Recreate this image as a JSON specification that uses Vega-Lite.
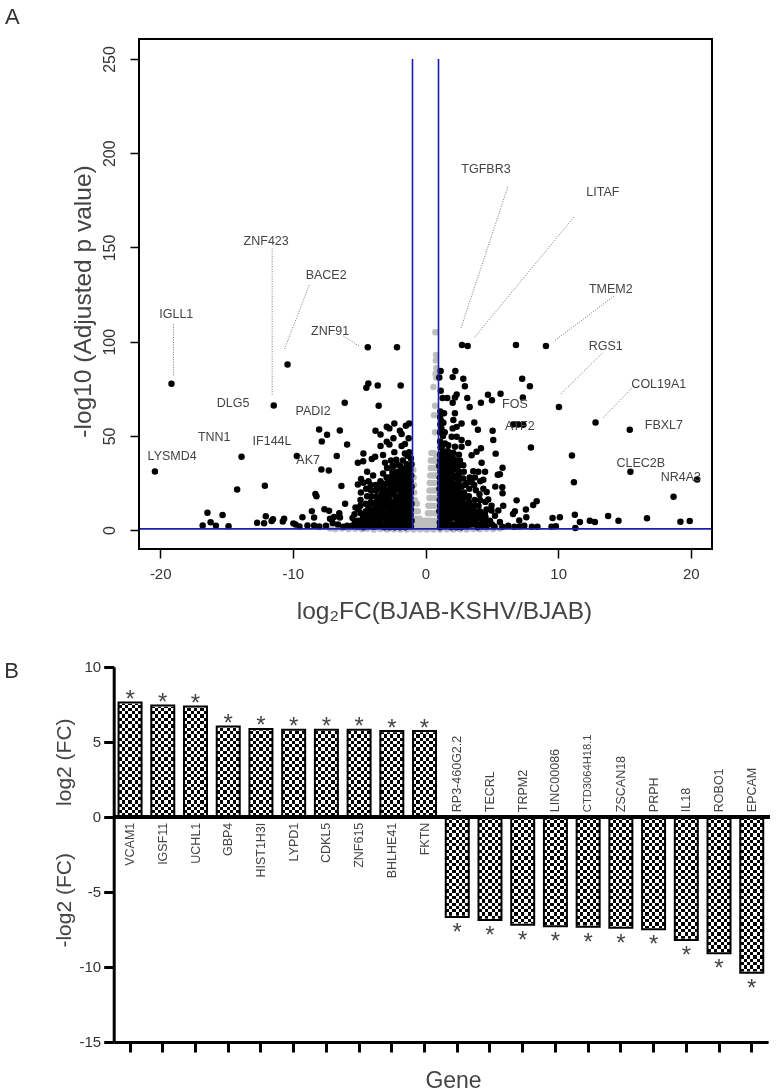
{
"$schema":"https://vega.github.io/schema/vega-lite/v6.json",
"width":777,"height":1092,"padding":0,"autosize":{"type":"none"},"background":"white",
"config":{"font":"Liberation Sans","view":{"stroke":null},"axis":{"grid":false}},
"datasets":{
"grey":[
{"x":0.75,"y":105},{"x":0.8,"y":93},{"x":0.78,"y":90},{"x":0.82,"y":86},{"x":0.76,"y":83},{"x":0.8,"y":81},{"x":0.6,"y":76},{"x":0.72,"y":66},{"x":0.64,"y":61},{"x":0.72,"y":52},
{"x":0.45,"y":41},{"x":0.6,"y":41},{"x":0.8,"y":40},{"x":0.9,"y":40},{"x":0.4,"y":37},{"x":0.55,"y":37},{"x":0.7,"y":37},{"x":0.9,"y":36},{"x":0.4,"y":33},{"x":0.6,"y":33},{"x":0.78,"y":33},{"x":0.92,"y":33},{"x":0.36,"y":29},{"x":0.55,"y":29},{"x":0.75,"y":29},{"x":0.9,"y":29},{"x":0.33,"y":25},{"x":0.5,"y":25},{"x":0.7,"y":25},{"x":0.9,"y":25},{"x":0.3,"y":21},{"x":0.5,"y":21},{"x":0.7,"y":21},{"x":0.9,"y":21},{"x":0.3,"y":17},{"x":0.48,"y":17},{"x":0.7,"y":17},{"x":0.9,"y":17},{"x":0.22,"y":13},{"x":0.45,"y":13},{"x":0.7,"y":13},{"x":0.9,"y":13},{"x":0.18,"y":9},{"x":0.4,"y":9},{"x":0.7,"y":9},{"x":0.9,"y":9},{"x":0.1,"y":5},{"x":0.35,"y":5},{"x":0.65,"y":5},{"x":0.9,"y":5},{"x":0.05,"y":2},{"x":0.3,"y":2},{"x":0.6,"y":2},{"x":0.9,"y":2},
{"x":-0.92,"y":32},{"x":-0.9,"y":28},{"x":-0.88,"y":24},{"x":-0.85,"y":20},{"x":-0.82,"y":16},{"x":-0.65,"y":14},{"x":-0.88,"y":14},{"x":-0.58,"y":10},{"x":-0.8,"y":10},{"x":-0.45,"y":6},{"x":-0.7,"y":6},{"x":-0.9,"y":6},{"x":-0.25,"y":3},{"x":-0.5,"y":3},{"x":-0.75,"y":3},{"x":-0.92,"y":3},{"x":-0.08,"y":5},{"x":0,"y":1},{"x":-0.2,"y":1},{"x":-0.5,"y":1},
{"x":-7.2,"y":0.9},{"x":-6.8,"y":0.6},{"x":-6.3,"y":0.9},{"x":-5.8,"y":0.6},{"x":-5.3,"y":0.8},{"x":-4.8,"y":0.5},{"x":-4.4,"y":0.7},{"x":-3.9,"y":0.4},{"x":-3.4,"y":0.6},{"x":-2.9,"y":0.4},{"x":-2.4,"y":0.5},{"x":-1.9,"y":0.3},{"x":-1.4,"y":0.4},{"x":-0.9,"y":0.3},{"x":-0.4,"y":0.5},{"x":0.1,"y":0.3},{"x":0.6,"y":0.4},{"x":1.1,"y":0.3},{"x":1.6,"y":0.5},{"x":2.1,"y":0.3},{"x":2.6,"y":0.5},{"x":3.1,"y":0.4},{"x":3.6,"y":0.6},{"x":4.1,"y":0.5},{"x":4.6,"y":0.7},{"x":5.1,"y":0.6},{"x":5.6,"y":0.9}
],
"black":[
{"x":-19.15,"y":77.7},{"x":-20.4,"y":31.1},{"x":-10.4,"y":87.9},{"x":-11.44,"y":66.2},{"x":-4.35,"y":97},{"x":-2.15,"y":97},{"x":-4.31,"y":77.8},{"x":-4.46,"y":75.5},{"x":-3.6,"y":76.8},{"x":-1.87,"y":76.8},{"x":-6.09,"y":67.6},{"x":-3.53,"y":66},{"x":-8.02,"y":53.4},{"x":-7.42,"y":50.6},{"x":-7.82,"y":47.1},{"x":-6.46,"y":52.9},{"x":-5.91,"y":45.5},{"x":-6.69,"y":39.4},{"x":-9.7,"y":39.4},{"x":-13.87,"y":38.9},{"x":-7.85,"y":32.2},{"x":-7.29,"y":31.7},{"x":-14.2,"y":21.6},{"x":-12.11,"y":23.5},{"x":-6.34,"y":23.4},{"x":-8.3,"y":19.2},{"x":-8.22,"y":18},{"x":-6.06,"y":14},{"x":-8.57,"y":10.1},{"x":-16.44,"y":9.2},{"x":-15.3,"y":8.1},{"x":-16.2,"y":4.2},{"x":-16.8,"y":2.5},{"x":-15.8,"y":2.3},{"x":-14.85,"y":2.1},{"x":-12.7,"y":3.9},{"x":-12.17,"y":3.7},{"x":-12.04,"y":7.4},{"x":-11.6,"y":4.8},{"x":-11.5,"y":5.8},{"x":-10.66,"y":6},{"x":-10.76,"y":4.6},{"x":-9.96,"y":3.6},{"x":-9.8,"y":3},{"x":-9.28,"y":6.9},{"x":-9.5,"y":2},{"x":-8.9,"y":2.5},{"x":-8.4,"y":6.7},{"x":-8.4,"y":2.5},{"x":-7.62,"y":11.1},{"x":-7.27,"y":10.3},{"x":-7.2,"y":6},{"x":-6.9,"y":7},{"x":-6.5,"y":9},{"x":-6.45,"y":6.7},{"x":-7,"y":3.8},{"x":-7.5,"y":2.3},{"x":-6.6,"y":3},{"x":-5.9,"y":2.4},{"x":-8,"y":2},{"x":-6.2,"y":1.8},
{"x":-2.35,"y":56.6},{"x":-2.92,"y":54.9},{"x":-2.72,"y":54},{"x":-3.77,"y":52.7},{"x":-3.39,"y":50.8},{"x":-1.93,"y":52.7},{"x":-1.23,"y":56.6},{"x":-1.48,"y":55.4},{"x":-1.8,"y":51},{"x":-1.27,"y":48.8},{"x":-2.42,"y":48.8},{"x":-2.92,"y":46.9},{"x":-2.72,"y":45.5},{"x":-3.39,"y":44.6},{"x":-1.8,"y":44.6},{"x":-1.55,"y":45.7},{"x":-4.68,"y":40.7},{"x":-3.2,"y":39.9},{"x":-2.35,"y":41.4},{"x":-1.55,"y":40.7},{"x":-1.23,"y":41.3},{"x":-3.8,"y":39},{"x":-4.05,"y":37.7},{"x":-5.1,"y":35.8},{"x":-4.7,"y":36.5},{"x":-3.05,"y":35.8},{"x":-2.2,"y":37.3},{"x":-4.4,"y":31},{"x":-2.9,"y":33},{"x":-2.4,"y":34},{"x":-1.9,"y":34},{"x":-1.4,"y":35},{"x":-4.86,"y":27.2},{"x":-5.1,"y":24.2},{"x":-4.68,"y":25.1},{"x":-3.4,"y":26},{"x":-3.55,"y":22},{"x":-4.1,"y":21},{"x":-4.4,"y":18},{"x":-4.9,"y":16},{"x":-5.05,"y":11},{"x":-3.6,"y":17},{"x":-3.9,"y":14},{"x":-4.3,"y":12},
{"x":-1.1,"y":38},{"x":-1.05,"y":35},{"x":-1.15,"y":32},{"x":-1.08,"y":29},{"x":-1.12,"y":26},{"x":-1.05,"y":23},{"x":-1.1,"y":20},{"x":-1.14,"y":17},{"x":-1.06,"y":14},{"x":-1.1,"y":11},{"x":-1.12,"y":8},{"x":-1.05,"y":5},{"x":-1.1,"y":2},
{"x":-1.5,"y":33},{"x":-1.45,"y":30},{"x":-1.55,"y":27},{"x":-1.5,"y":24},{"x":-1.48,"y":21},{"x":-1.52,"y":18},{"x":-1.45,"y":15},{"x":-1.5,"y":12},{"x":-1.55,"y":9},{"x":-1.46,"y":6},{"x":-1.5,"y":3},{"x":-1.52,"y":1.5},
{"x":-1.9,"y":31},{"x":-1.85,"y":28},{"x":-1.95,"y":25},{"x":-1.9,"y":22},{"x":-1.88,"y":19},{"x":-1.92,"y":16},{"x":-1.86,"y":13},{"x":-1.94,"y":10},{"x":-1.9,"y":7},{"x":-1.87,"y":4},{"x":-1.92,"y":1.5},
{"x":-2.3,"y":30},{"x":-2.28,"y":27},{"x":-2.35,"y":24},{"x":-2.3,"y":21},{"x":-2.26,"y":18},{"x":-2.33,"y":15},{"x":-2.3,"y":12},{"x":-2.35,"y":9},{"x":-2.28,"y":6},{"x":-2.3,"y":3},{"x":-2.32,"y":1.5},
{"x":-2.7,"y":28},{"x":-2.72,"y":25},{"x":-2.68,"y":22},{"x":-2.75,"y":19},{"x":-2.7,"y":16},{"x":-2.66,"y":13},{"x":-2.72,"y":10},{"x":-2.7,"y":7},{"x":-2.74,"y":4},{"x":-2.7,"y":1.5},
{"x":-3.1,"y":24},{"x":-3.12,"y":21},{"x":-3.08,"y":18},{"x":-3.1,"y":15},{"x":-3.14,"y":12},{"x":-3.1,"y":9},{"x":-3.08,"y":6},{"x":-3.12,"y":3},{"x":-3.1,"y":1.5},
{"x":-3.5,"y":14},{"x":-3.52,"y":11},{"x":-3.48,"y":8},{"x":-3.5,"y":5},{"x":-3.53,"y":2.5},
{"x":-3.9,"y":10},{"x":-3.92,"y":7},{"x":-3.88,"y":4},{"x":-3.9,"y":1.8},
{"x":-4.3,"y":8},{"x":-4.28,"y":5},{"x":-4.32,"y":2.2},{"x":-4.7,"y":7},{"x":-4.7,"y":3.5},{"x":-4.68,"y":1.5},{"x":-5.1,"y":5},{"x":-5.1,"y":2},{"x":-5.5,"y":6.5},{"x":-5.5,"y":2.5},{"x":-5.35,"y":8.5},
{"x":2.75,"y":98.2},{"x":3.18,"y":97.7},{"x":6.82,"y":98.2},{"x":9.08,"y":97.7},{"x":1.14,"y":84.4},{"x":1.04,"y":81},{"x":2.25,"y":84.4},{"x":2.05,"y":81.2},{"x":2.85,"y":80.3},{"x":2.97,"y":76.3},{"x":7.29,"y":80.3},{"x":7.87,"y":76.3},{"x":10.06,"y":65.4},{"x":12.82,"y":57.1},{"x":15.4,"y":53.3},{"x":20.48,"y":26.9},{"x":15.45,"y":31},{"x":18.7,"y":17.7},{"x":11.04,"y":39.6},{"x":11.19,"y":25.4},{"x":7.95,"y":43.9},{"x":7.34,"y":70.4},{"x":5.66,"y":72.4},{"x":4.71,"y":71.9},{"x":5.01,"y":68.9},{"x":4.18,"y":67.6},{"x":3.15,"y":70.1},{"x":3.33,"y":65.4},{"x":3.68,"y":57.1},{"x":3.95,"y":53.3},{"x":5.06,"y":52.7},{"x":5.11,"y":47.8},{"x":6.99,"y":56.1},{"x":7.37,"y":55.9},{"x":6.6,"y":56},{"x":5.29,"y":40.6},{"x":4.18,"y":43.5},{"x":4.23,"y":35.8},{"x":5.81,"y":33.1},{"x":5.61,"y":29.7},{"x":5.45,"y":29.4},{"x":4.49,"y":31},{"x":4.36,"y":26.8},{"x":5.26,"y":23.1},{"x":5.79,"y":22.8},{"x":5.81,"y":19.6},{"x":4.73,"y":16.3},{"x":6.87,"y":15.8},{"x":8.38,"y":15.4},{"x":8.12,"y":13.4},{"x":7.57,"y":11},{"x":6.74,"y":10},{"x":6.6,"y":8.6},{"x":7.6,"y":6.8},{"x":7.07,"y":5.1},{"x":9.58,"y":6.4},{"x":10.13,"y":6.8},{"x":11.26,"y":8.2},{"x":11.64,"y":4.3},{"x":12.39,"y":5},{"x":12.77,"y":4.3},{"x":13.77,"y":7.5},{"x":14.55,"y":5},{"x":16.7,"y":6.3},{"x":19.22,"y":4.4},{"x":19.92,"y":4.8},{"x":9.83,"y":2.1},{"x":9.5,"y":1.8},{"x":11.3,"y":1.1},{"x":8.44,"y":1.8},{"x":8.02,"y":1.8},{"x":7.1,"y":2},{"x":7.45,"y":2.3},{"x":6.7,"y":1.8},
{"x":2.35,"y":72},{"x":2.22,"y":70.4},{"x":2.05,"y":67.6},{"x":1.29,"y":70.1},{"x":1.64,"y":70.1},{"x":2.22,"y":62},{"x":2.1,"y":58.4},{"x":2.72,"y":56.6},{"x":2.35,"y":54.8},{"x":1.97,"y":49.5},{"x":2.35,"y":49.5},{"x":2.72,"y":47.8},{"x":3.22,"y":46.3},{"x":1.47,"y":46},{"x":1.72,"y":45},{"x":2.22,"y":44.2},{"x":2.72,"y":44.2},{"x":3.48,"y":39.8},{"x":3.85,"y":41.6},{"x":2.85,"y":34.5},{"x":3.6,"y":31.3},{"x":3.98,"y":31},{"x":3.48,"y":25.6},{"x":3.8,"y":21.2},{"x":4.36,"y":22},{"x":4.61,"y":20.3},{"x":2.85,"y":27.4},{"x":3.1,"y":17.7},{"x":4.98,"y":10.4},{"x":5.49,"y":10.4},{"x":5.86,"y":13},{"x":5.24,"y":7.7},{"x":6.24,"y":2.4},{"x":4.86,"y":5},{"x":4.36,"y":6.8},{"x":5.61,"y":4.3},{"x":3.85,"y":8.6},{"x":3.48,"y":12.1},{"x":5.2,"y":2},{"x":5.8,"y":1.8},{"x":4.6,"y":2},
{"x":1.12,"y":63},{"x":1.1,"y":60},{"x":1.18,"y":58},{"x":1.12,"y":56},{"x":1.2,"y":54},{"x":1.1,"y":52},{"x":1.4,"y":62},{"x":1.35,"y":57},{"x":1.1,"y":47},{"x":1.15,"y":44},{"x":1.1,"y":40},{"x":1.5,"y":41},
{"x":1.1,"y":37},{"x":1.05,"y":34},{"x":1.12,"y":31},{"x":1.08,"y":28},{"x":1.1,"y":25},{"x":1.06,"y":22},{"x":1.12,"y":19},{"x":1.08,"y":16},{"x":1.1,"y":13},{"x":1.05,"y":10},{"x":1.12,"y":7},{"x":1.08,"y":4},{"x":1.1,"y":1.5},
{"x":1.5,"y":38},{"x":1.45,"y":35},{"x":1.55,"y":32},{"x":1.5,"y":29},{"x":1.46,"y":26},{"x":1.52,"y":23},{"x":1.48,"y":20},{"x":1.55,"y":17},{"x":1.5,"y":14},{"x":1.46,"y":11},{"x":1.52,"y":8},{"x":1.48,"y":5},{"x":1.5,"y":2},
{"x":1.9,"y":41},{"x":1.85,"y":37},{"x":1.95,"y":33},{"x":1.88,"y":30},{"x":1.92,"y":27},{"x":1.9,"y":24},{"x":1.86,"y":21},{"x":1.93,"y":18},{"x":1.9,"y":15},{"x":1.87,"y":12},{"x":1.92,"y":9},{"x":1.9,"y":6},{"x":1.88,"y":3},{"x":1.93,"y":1.5},
{"x":2.3,"y":37},{"x":2.35,"y":33},{"x":2.28,"y":28},{"x":2.32,"y":24},{"x":2.3,"y":21},{"x":2.36,"y":18},{"x":2.28,"y":15},{"x":2.32,"y":12},{"x":2.3,"y":9},{"x":2.35,"y":6},{"x":2.28,"y":3},{"x":2.33,"y":1.5},
{"x":2.7,"y":23},{"x":2.72,"y":19},{"x":2.68,"y":16},{"x":2.74,"y":13},{"x":2.7,"y":10},{"x":2.66,"y":7},{"x":2.72,"y":4},{"x":2.7,"y":1.5},
{"x":3.1,"y":14},{"x":3.12,"y":11},{"x":3.08,"y":8},{"x":3.1,"y":5},{"x":3.12,"y":2},{"x":3.5,"y":9},{"x":3.52,"y":6},{"x":3.5,"y":3},{"x":3.9,"y":6},{"x":3.88,"y":3},{"x":3.92,"y":1.5},{"x":4.3,"y":4},{"x":4.28,"y":2},{"x":3.3,"y":15},{"x":4,"y":13},{"x":2.6,"y":37},{"x":3.1,"y":25},{"x":3.3,"y":22},
{"x":-1.3,"y":19},{"x":-1.3,"y":25},{"x":-1.3,"y":31},{"x":-1.3,"y":13},{"x":-1.3,"y":7},{"x":-1.7,"y":37},{"x":-1.7,"y":23},{"x":-1.7,"y":29},{"x":-1.7,"y":11},{"x":-1.7,"y":5},{"x":-2.1,"y":28},{"x":-2.1,"y":22},{"x":-2.1,"y":14},{"x":-2.1,"y":8},{"x":-2.5,"y":31},{"x":-2.5,"y":26},{"x":-2.5,"y":19},{"x":-2.5,"y":11},{"x":-2.9,"y":25},{"x":-2.9,"y":18},{"x":-2.9,"y":12},{"x":-2.9,"y":5},{"x":-3.3,"y":19},{"x":-3.3,"y":13},{"x":-3.3,"y":7},{"x":-3.7,"y":12},{"x":-3.7,"y":6},{"x":-4.1,"y":11},{"x":-4.5,"y":10},{"x":-4.1,"y":6},{"x":-4.5,"y":5},{"x":-3.75,"y":24},{"x":-4.3,"y":26},{"x":-3.95,"y":29},{"x":-3.2,"y":30},{"x":-2.6,"y":37},
{"x":1.3,"y":42},{"x":1.3,"y":36},{"x":1.3,"y":30},{"x":1.3,"y":24},{"x":1.3,"y":18},{"x":1.3,"y":12},{"x":1.3,"y":6},{"x":1.7,"y":39},{"x":1.7,"y":33},{"x":1.7,"y":27},{"x":1.7,"y":21},{"x":1.7,"y":15},{"x":1.7,"y":9},{"x":2.1,"y":35},{"x":2.1,"y":29},{"x":2.1,"y":22},{"x":2.1,"y":13},{"x":2.5,"y":31},{"x":2.5,"y":26},{"x":2.5,"y":17},{"x":2.5,"y":11},{"x":2.9,"y":20},{"x":2.9,"y":14},{"x":2.9,"y":7},{"x":3.3,"y":11},{"x":3.3,"y":6},{"x":3.7,"y":10},{"x":3.7,"y":4},{"x":4.1,"y":10},{"x":4.6,"y":11},{"x":4.5,"y":4},{"x":1.15,"y":74},{"x":1.45,"y":52},{"x":2.05,"y":54},
{"x":-1.32,"y":3},{"x":-1.28,"y":10},{"x":-1.33,"y":16},{"x":-1.27,"y":22},{"x":-1.31,"y":28},{"x":-1.29,"y":34},{"x":-1.35,"y":39.5},{"x":-1.72,"y":2},{"x":-1.68,"y":8},{"x":-1.71,"y":14},{"x":-1.69,"y":17},{"x":-1.73,"y":20},{"x":-1.67,"y":26},{"x":-1.7,"y":32},{"x":-2.12,"y":2},{"x":-2.08,"y":5},{"x":-2.11,"y":11},{"x":-2.13,"y":17},{"x":-2.07,"y":25},{"x":-2.1,"y":31},{"x":-2.14,"y":35},{"x":-2.52,"y":3},{"x":-2.48,"y":6},{"x":-2.51,"y":9},{"x":-2.47,"y":14},{"x":-2.53,"y":22},{"x":-2.5,"y":29},{"x":-2.49,"y":34},{"x":-2.92,"y":2},{"x":-2.88,"y":8},{"x":-2.91,"y":15},{"x":-2.87,"y":21},{"x":-2.93,"y":28},{"x":-3.32,"y":3},{"x":-3.28,"y":10},{"x":-3.31,"y":16},{"x":-3.27,"y":22},{"x":-3.33,"y":25},{"x":-3.72,"y":3},{"x":-3.68,"y":9},{"x":-3.71,"y":15},{"x":-3.67,"y":18},{"x":-3.73,"y":21},{"x":-4.12,"y":3},{"x":-4.08,"y":8},{"x":-4.11,"y":15},{"x":-4.07,"y":18},{"x":-4.13,"y":24},{"x":-4.52,"y":3},{"x":-4.48,"y":7},{"x":-4.51,"y":14},{"x":-4.47,"y":22},{"x":-4.92,"y":5},{"x":-4.88,"y":9},{"x":-4.91,"y":13},{"x":-4.87,"y":20},{"x":-5.32,"y":4},{"x":-5.28,"y":12},
{"x":1.32,"y":3},{"x":1.28,"y":9},{"x":1.31,"y":15},{"x":1.27,"y":21},{"x":1.33,"y":27},{"x":1.29,"y":33},{"x":1.31,"y":39},{"x":1.28,"y":45},{"x":1.32,"y":50},{"x":1.72,"y":3},{"x":1.68,"y":6},{"x":1.71,"y":12},{"x":1.67,"y":18},{"x":1.73,"y":24},{"x":1.69,"y":30},{"x":1.71,"y":36},{"x":1.68,"y":42},{"x":2.12,"y":3},{"x":2.08,"y":7},{"x":2.11,"y":10},{"x":2.07,"y":16},{"x":2.13,"y":19},{"x":2.09,"y":25},{"x":2.12,"y":32},{"x":2.08,"y":38},{"x":2.11,"y":41},{"x":2.52,"y":3},{"x":2.48,"y":6},{"x":2.51,"y":8},{"x":2.47,"y":14},{"x":2.53,"y":20},{"x":2.49,"y":23},{"x":2.51,"y":29},{"x":2.48,"y":34},{"x":2.52,"y":40},{"x":2.92,"y":3},{"x":2.88,"y":5},{"x":2.91,"y":10},{"x":2.87,"y":17},{"x":2.93,"y":24},{"x":2.89,"y":31},{"x":3.32,"y":3},{"x":3.28,"y":8},{"x":3.31,"y":13},{"x":3.27,"y":18},{"x":3.33,"y":28},{"x":3.72,"y":7},{"x":3.68,"y":13},{"x":3.71,"y":16},{"x":3.67,"y":24},{"x":3.73,"y":28},{"x":4.12,"y":3},{"x":4.08,"y":7},{"x":4.11,"y":16},{"x":4.07,"y":19},{"x":4.13,"y":26},{"x":4.52,"y":7},{"x":4.48,"y":9},{"x":4.51,"y":15},{"x":5.02,"y":3},{"x":4.98,"y":13}
],
"labels":[
{"g":"TGFBR3","x":4.56,"y":191.5},{"g":"LITAF","x":13.37,"y":179.5},{"g":"TMEM2","x":13.97,"y":127.9},{"g":"RGS1","x":13.59,"y":97.6},{"g":"COL19A1","x":17.59,"y":77.4},{"g":"FBXL7","x":17.97,"y":55.7},{"g":"FOS","x":6.74,"y":66.9},{"g":"ATF2","x":7.11,"y":55.5},{"g":"CLEC2B","x":16.23,"y":35.6},{"g":"NR4A3","x":19.25,"y":28.1},{"g":"ZNF423","x":-12.01,"y":153.5},{"g":"BACE2","x":-7.49,"y":135.2},{"g":"ZNF91","x":-7.19,"y":105.5},{"g":"IGLL1","x":-18.79,"y":114.6},{"g":"DLG5","x":-14.5,"y":67.4},{"g":"PADI2","x":-8.47,"y":63.2},{"g":"TNN1","x":-15.93,"y":49.4},{"g":"IF144L","x":-11.57,"y":47.2},{"g":"AK7","x":-8.85,"y":37.2},{"g":"LYSMD4","x":-19.1,"y":39.3}
],
"leaders":[
{"x":-19,"y":109.2,"x2":-19,"y2":81.9},{"x":-11.56,"y":149.4,"x2":-11.56,"y2":71.7},{"x":-8.77,"y":130,"x2":-10.66,"y2":95.5},{"x":-6.19,"y":103,"x2":-4.93,"y2":97.3},{"x":6.2,"y":182,"x2":2.67,"y2":107.2},{"x":11.19,"y":166.1,"x2":3.65,"y2":101.9},{"x":14.2,"y":124.2,"x2":9.68,"y2":100.2},{"x":13.35,"y":94.1,"x2":10.21,"y2":72.3},{"x":15.53,"y":75.2,"x2":13.35,"y2":59.3}
],
"genes":[
{"gene":"VCAM1","value":7.62},{"gene":"IGSF11","value":7.42},{"gene":"UCHL1","value":7.35},{"gene":"GBP4","value":6.02},{"gene":"HIST1H3I","value":5.85},{"gene":"LYPD1","value":5.8},{"gene":"CDKL5","value":5.8},{"gene":"ZNF615","value":5.8},{"gene":"BHLHE41","value":5.71},{"gene":"FKTN","value":5.71},{"gene":"RP3-460G2.2","value":-6.68},{"gene":"TECRL","value":-6.88},{"gene":"TRPM2","value":-7.2},{"gene":"LINC00086","value":-7.3},{"gene":"CTD3064H18.1","value":-7.33},{"gene":"ZSCAN18","value":-7.4},{"gene":"PRPH","value":-7.5},{"gene":"IL18","value":-8.22},{"gene":"ROBO1","value":-9.1},{"gene":"EPCAM","value":-10.4}
]
},
"layer":[
{"layer":[
{"data":{"name":"grey"},"mark":{"type":"circle","size":42,"opacity":1,"color":"#bdbdbd"},
 "encoding":{
  "x":{"field":"x","type":"quantitative","scale":{"domain":[-21.6,21.6],"range":[139,712],"nice":false,"zero":false},
   "axis":{"orient":"bottom","offset":-543,"values":[-20,-10,0,10,20],"domain":false,"tickColor":"#000","tickWidth":1.5,"tickSize":9,"labelFontSize":15,"labelColor":"#333","labelPadding":8,"labelExpr":"replace(datum.label,'−','-')","title":"log₂FC(BJAB-KSHV/BJAB)","titleFontSize":24.5,"titleFontWeight":"normal","titleColor":"#444","titleX":444,"titleY":50}},
  "y":{"field":"y","type":"quantitative","scale":{"domain":[-10,260.6],"range":[549,39],"nice":false,"zero":false},
   "axis":{"orient":"left","offset":-139,"values":[0,50,100,150,200,250],"domain":false,"tickColor":"#000","tickWidth":1.5,"tickSize":9,"labelFontSize":16,"labelColor":"#333","labelAngle":270,"labelPadding":13,"title":"-log10 (Adjusted p value)","titleFontSize":24.5,"titleFontWeight":"normal","titleColor":"#444","titleX":-44,"titleY":301}}
 }},
{"data":{"name":"black"},"mark":{"type":"circle","size":42,"opacity":1,"color":"#000"},
 "encoding":{"x":{"field":"x","type":"quantitative"},"y":{"field":"y","type":"quantitative"}}},
{"data":{"name":"leaders"},"mark":{"type":"rule","stroke":"#555","strokeWidth":0.8,"strokeDash":[1,1.5]},
 "encoding":{"x":{"field":"x","type":"quantitative"},"x2":{"field":"x2"},"y":{"field":"y","type":"quantitative"},"y2":{"field":"y2"}}},
{"data":{"name":"labels"},"mark":{"type":"text","fontSize":12.5,"color":"#444","align":"center","baseline":"middle"},
 "encoding":{"x":{"field":"x","type":"quantitative"},"y":{"field":"y","type":"quantitative"},"text":{"field":"g"}}},
{"data":{"values":[{}]},"mark":{"type":"rule","stroke":"#1c1cb0","strokeWidth":1.6},"encoding":{"x":{"datum":-0.98},"y":{"datum":0.7},"y2":{"datum":250}}},
{"data":{"values":[{}]},"mark":{"type":"rule","stroke":"#1c1cb0","strokeWidth":1.6},"encoding":{"x":{"datum":0.98},"y":{"datum":0.7},"y2":{"datum":250}}},
{"data":{"values":[{}]},"mark":{"type":"rule","stroke":"#1c1cb0","strokeWidth":1.6},"encoding":{"x":{"datum":-21.6},"x2":{"datum":21.6},"y":{"datum":0.7}}},
{"data":{"values":[{}]},"mark":{"type":"rect","fill":null,"stroke":"#000","strokeWidth":2},"encoding":{"x":{"datum":-21.6},"x2":{"datum":21.6},"y":{"datum":-10},"y2":{"datum":260.6}}},
{"data":{"values":[{"t":"A","x":-31.15,"y":272.3},{"t":"B","x":-31.2,"y":-74.8}]},"mark":{"type":"text","fontSize":22,"color":"#333","align":"center","baseline":"middle"},
 "encoding":{"x":{"field":"x","type":"quantitative"},"y":{"field":"y","type":"quantitative"},"text":{"field":"t"}}},
{"data":{"values":[{"t":"log2 (FC)","x":-27.16,"y":-123.1},{"t":"-log2 (FC)","x":-27.16,"y":-196.4}]},"mark":{"type":"text","fontSize":21,"color":"#444","angle":270,"align":"center","baseline":"middle"},
 "encoding":{"x":{"field":"x","type":"quantitative"},"y":{"field":"y","type":"quantitative"},"text":{"field":"t"}}}
]},
{"data":{"name":"genes"},
 "encoding":{"x":{"field":"gene","type":"nominal","sort":null,"scale":{"type":"band","range":[113.7,768.1],"paddingInner":0.297,"paddingOuter":0.1485},
   "axis":{"orient":"bottom","offset":-50,"labels":false,"domainColor":"#000","domainWidth":3,"tickColor":"#000","tickWidth":3,"tickSize":10,"title":"Gene","titleFontSize":23,"titleFontWeight":"normal","titleColor":"#444","titleX":453,"titleY":27}}},
 "layer":[
{"transform":[{"filter":"datum.value>0"}],"mark":{"type":"bar","fill":{"gradient":"linear","x1":0,"y1":0,"x2":0,"y2":1,"stops":[{"offset":0,"color":"#000"},{"offset":0.025,"color":"#000"},{"offset":0.025,"color":"#fff"},{"offset":0.05,"color":"#fff"},{"offset":0.05,"color":"#000"},{"offset":0.075,"color":"#000"},{"offset":0.075,"color":"#fff"},{"offset":0.1,"color":"#fff"},{"offset":0.1,"color":"#000"},{"offset":0.125,"color":"#000"},{"offset":0.125,"color":"#fff"},{"offset":0.15,"color":"#fff"},{"offset":0.15,"color":"#000"},{"offset":0.175,"color":"#000"},{"offset":0.175,"color":"#fff"},{"offset":0.2,"color":"#fff"},{"offset":0.2,"color":"#000"},{"offset":0.225,"color":"#000"},{"offset":0.225,"color":"#fff"},{"offset":0.25,"color":"#fff"},{"offset":0.25,"color":"#000"},{"offset":0.275,"color":"#000"},{"offset":0.275,"color":"#fff"},{"offset":0.3,"color":"#fff"},{"offset":0.3,"color":"#000"},{"offset":0.325,"color":"#000"},{"offset":0.325,"color":"#fff"},{"offset":0.35,"color":"#fff"},{"offset":0.35,"color":"#000"},{"offset":0.375,"color":"#000"},{"offset":0.375,"color":"#fff"},{"offset":0.4,"color":"#fff"},{"offset":0.4,"color":"#000"},{"offset":0.425,"color":"#000"},{"offset":0.425,"color":"#fff"},{"offset":0.45,"color":"#fff"},{"offset":0.45,"color":"#000"},{"offset":0.475,"color":"#000"},{"offset":0.475,"color":"#fff"},{"offset":0.5,"color":"#fff"},{"offset":0.5,"color":"#000"},{"offset":0.525,"color":"#000"},{"offset":0.525,"color":"#fff"},{"offset":0.55,"color":"#fff"},{"offset":0.55,"color":"#000"},{"offset":0.575,"color":"#000"},{"offset":0.575,"color":"#fff"},{"offset":0.6,"color":"#fff"},{"offset":0.6,"color":"#000"},{"offset":0.625,"color":"#000"},{"offset":0.625,"color":"#fff"},{"offset":0.65,"color":"#fff"},{"offset":0.65,"color":"#000"},{"offset":0.675,"color":"#000"},{"offset":0.675,"color":"#fff"},{"offset":0.7,"color":"#fff"},{"offset":0.7,"color":"#000"},{"offset":0.725,"color":"#000"},{"offset":0.725,"color":"#fff"},{"offset":0.75,"color":"#fff"},{"offset":0.75,"color":"#000"},{"offset":0.775,"color":"#000"},{"offset":0.775,"color":"#fff"},{"offset":0.8,"color":"#fff"},{"offset":0.8,"color":"#000"},{"offset":0.825,"color":"#000"},{"offset":0.825,"color":"#fff"},{"offset":0.85,"color":"#fff"},{"offset":0.85,"color":"#000"},{"offset":0.875,"color":"#000"},{"offset":0.875,"color":"#fff"},{"offset":0.9,"color":"#fff"},{"offset":0.9,"color":"#000"},{"offset":0.925,"color":"#000"},{"offset":0.925,"color":"#fff"},{"offset":0.95,"color":"#fff"},{"offset":0.95,"color":"#000"},{"offset":0.975,"color":"#000"},{"offset":0.975,"color":"#fff"},{"offset":1,"color":"#fff"}]}},
 "encoding":{"y":{"datum":0,"type":"quantitative","scale":{"domain":[-15,10],"range":[1041.7,666.7],"nice":false,"zero":false},
   "axis":{"orient":"left","offset":-113.7,"values":[-15,-10,-5,0,5,10],"labelExpr":"replace(datum.label,'−','-')","domainColor":"#000","domainWidth":3,"tickColor":"#000","tickWidth":3,"tickSize":10,"labelFontSize":15,"labelColor":"#333","labelPadding":3,"title":null}},"y2":{"datum":8.8}}},
{"transform":[{"filter":"datum.value<0"}],"mark":{"type":"bar","fill":{"gradient":"linear","x1":0,"y1":0,"x2":0,"y2":1,"stops":[{"offset":0.02,"color":"#000"},{"offset":0.02,"color":"#fff"},{"offset":0.04,"color":"#fff"},{"offset":0.04,"color":"#000"},{"offset":0.06,"color":"#000"},{"offset":0.06,"color":"#fff"},{"offset":0.08,"color":"#fff"},{"offset":0.08,"color":"#000"},{"offset":0.1,"color":"#000"},{"offset":0.1,"color":"#fff"},{"offset":0.12,"color":"#fff"},{"offset":0.12,"color":"#000"},{"offset":0.14,"color":"#000"},{"offset":0.14,"color":"#fff"},{"offset":0.16,"color":"#fff"},{"offset":0.16,"color":"#000"},{"offset":0.18,"color":"#000"},{"offset":0.18,"color":"#fff"},{"offset":0.2,"color":"#fff"},{"offset":0.2,"color":"#000"},{"offset":0.22,"color":"#000"},{"offset":0.22,"color":"#fff"},{"offset":0.24,"color":"#fff"},{"offset":0.24,"color":"#000"},{"offset":0.26,"color":"#000"},{"offset":0.26,"color":"#fff"},{"offset":0.28,"color":"#fff"},{"offset":0.28,"color":"#000"},{"offset":0.3,"color":"#000"},{"offset":0.3,"color":"#fff"},{"offset":0.32,"color":"#fff"},{"offset":0.32,"color":"#000"},{"offset":0.34,"color":"#000"},{"offset":0.34,"color":"#fff"},{"offset":0.36,"color":"#fff"},{"offset":0.36,"color":"#000"},{"offset":0.38,"color":"#000"},{"offset":0.38,"color":"#fff"},{"offset":0.4,"color":"#fff"},{"offset":0.4,"color":"#000"},{"offset":0.42,"color":"#000"},{"offset":0.42,"color":"#fff"},{"offset":0.44,"color":"#fff"},{"offset":0.44,"color":"#000"},{"offset":0.46,"color":"#000"},{"offset":0.46,"color":"#fff"},{"offset":0.48,"color":"#fff"},{"offset":0.48,"color":"#000"},{"offset":0.5,"color":"#000"},{"offset":0.5,"color":"#fff"},{"offset":0.52,"color":"#fff"},{"offset":0.52,"color":"#000"},{"offset":0.54,"color":"#000"},{"offset":0.54,"color":"#fff"},{"offset":0.56,"color":"#fff"},{"offset":0.56,"color":"#000"},{"offset":0.58,"color":"#000"},{"offset":0.58,"color":"#fff"},{"offset":0.6,"color":"#fff"},{"offset":0.6,"color":"#000"},{"offset":0.62,"color":"#000"},{"offset":0.62,"color":"#fff"},{"offset":0.64,"color":"#fff"},{"offset":0.64,"color":"#000"},{"offset":0.66,"color":"#000"},{"offset":0.66,"color":"#fff"},{"offset":0.68,"color":"#fff"},{"offset":0.68,"color":"#000"},{"offset":0.7,"color":"#000"},{"offset":0.7,"color":"#fff"},{"offset":0.72,"color":"#fff"},{"offset":0.72,"color":"#000"},{"offset":0.74,"color":"#000"},{"offset":0.74,"color":"#fff"},{"offset":0.76,"color":"#fff"},{"offset":0.76,"color":"#000"},{"offset":0.78,"color":"#000"},{"offset":0.78,"color":"#fff"},{"offset":0.8,"color":"#fff"},{"offset":0.8,"color":"#000"},{"offset":0.82,"color":"#000"},{"offset":0.82,"color":"#fff"},{"offset":0.84,"color":"#fff"},{"offset":0.84,"color":"#000"},{"offset":0.86,"color":"#000"},{"offset":0.86,"color":"#fff"},{"offset":0.88,"color":"#fff"},{"offset":0.88,"color":"#000"},{"offset":0.9,"color":"#000"},{"offset":0.9,"color":"#fff"},{"offset":0.92,"color":"#fff"},{"offset":0.92,"color":"#000"},{"offset":0.94,"color":"#000"},{"offset":0.94,"color":"#fff"},{"offset":0.96,"color":"#fff"},{"offset":0.96,"color":"#000"},{"offset":0.98,"color":"#000"},{"offset":0.98,"color":"#fff"},{"offset":1,"color":"#fff"}]}},
 "encoding":{"y":{"datum":0,"type":"quantitative"},"y2":{"datum":-11}}},
{"transform":[{"filter":"datum.value>0"}],"mark":{"type":"bar","blend":"difference","fill":{"gradient":"linear","x1":0,"y1":0,"x2":1,"y2":0,"stops":[{"offset":0.143,"color":"#000"},{"offset":0.143,"color":"#fff"},{"offset":0.286,"color":"#fff"},{"offset":0.286,"color":"#000"},{"offset":0.429,"color":"#000"},{"offset":0.429,"color":"#fff"},{"offset":0.571,"color":"#fff"},{"offset":0.571,"color":"#000"},{"offset":0.714,"color":"#000"},{"offset":0.714,"color":"#fff"},{"offset":0.857,"color":"#fff"},{"offset":0.857,"color":"#000"}]}},
 "encoding":{"y":{"datum":0,"type":"quantitative"},"y2":{"datum":8.8}}},
{"transform":[{"filter":"datum.value<0"}],"mark":{"type":"bar","blend":"difference","fill":{"gradient":"linear","x1":0,"y1":0,"x2":1,"y2":0,"stops":[{"offset":0.143,"color":"#000"},{"offset":0.143,"color":"#fff"},{"offset":0.286,"color":"#fff"},{"offset":0.286,"color":"#000"},{"offset":0.429,"color":"#000"},{"offset":0.429,"color":"#fff"},{"offset":0.571,"color":"#fff"},{"offset":0.571,"color":"#000"},{"offset":0.714,"color":"#000"},{"offset":0.714,"color":"#fff"},{"offset":0.857,"color":"#fff"},{"offset":0.857,"color":"#000"}]}},
 "encoding":{"y":{"datum":0,"type":"quantitative"},"y2":{"datum":-11}}},
{"transform":[{"filter":"datum.value>0"}],"mark":{"type":"bar","fill":"#fff","stroke":"#fff","strokeWidth":2.5},
 "encoding":{"y":{"field":"value","type":"quantitative"},"y2":{"datum":8.8}}},
{"transform":[{"filter":"datum.value<0"}],"mark":{"type":"bar","fill":"#fff","stroke":"#fff","strokeWidth":2.5},
 "encoding":{"y":{"field":"value","type":"quantitative"},"y2":{"datum":-11}}},
{"mark":{"type":"bar","fill":null,"stroke":"#000","strokeWidth":2},
 "encoding":{"y":{"field":"value","type":"quantitative"},"y2":{"datum":0}}},
{"mark":{"type":"rule","stroke":"#000","strokeWidth":3,"xOffset":-16,"x2Offset":18},
 "encoding":{"x":{"datum":"VCAM1"},"x2":{"datum":"EPCAM"},"y":{"datum":0,"type":"quantitative"}}},
{"transform":[{"filter":"datum.value>0"}],"mark":{"type":"text","fontSize":12.5,"color":"#444","angle":270,"align":"right","baseline":"middle"},
 "encoding":{"y":{"datum":-0.4,"type":"quantitative"},"text":{"field":"gene"}}},
{"transform":[{"filter":"datum.value<0"}],"mark":{"type":"text","color":"#444","angle":270,"align":"left","baseline":"middle"},
 "encoding":{"y":{"datum":0.3,"type":"quantitative"},"text":{"field":"gene"},"size":{"condition":{"test":"datum.gene==='CTD3064H18.1'","value":11.2},"value":12.5}}},
{"transform":[{"filter":"datum.value>0"}],"mark":{"type":"text","fontSize":24,"color":"#444","text":"*","dy":-2.5},
 "encoding":{"y":{"field":"value","type":"quantitative"}}},
{"transform":[{"filter":"datum.value<0"}],"mark":{"type":"text","fontSize":24,"color":"#444","text":"*","dy":16},
 "encoding":{"y":{"field":"value","type":"quantitative"}}}
]}
],
"resolve":{"scale":{"x":"independent","y":"independent"}}
}
